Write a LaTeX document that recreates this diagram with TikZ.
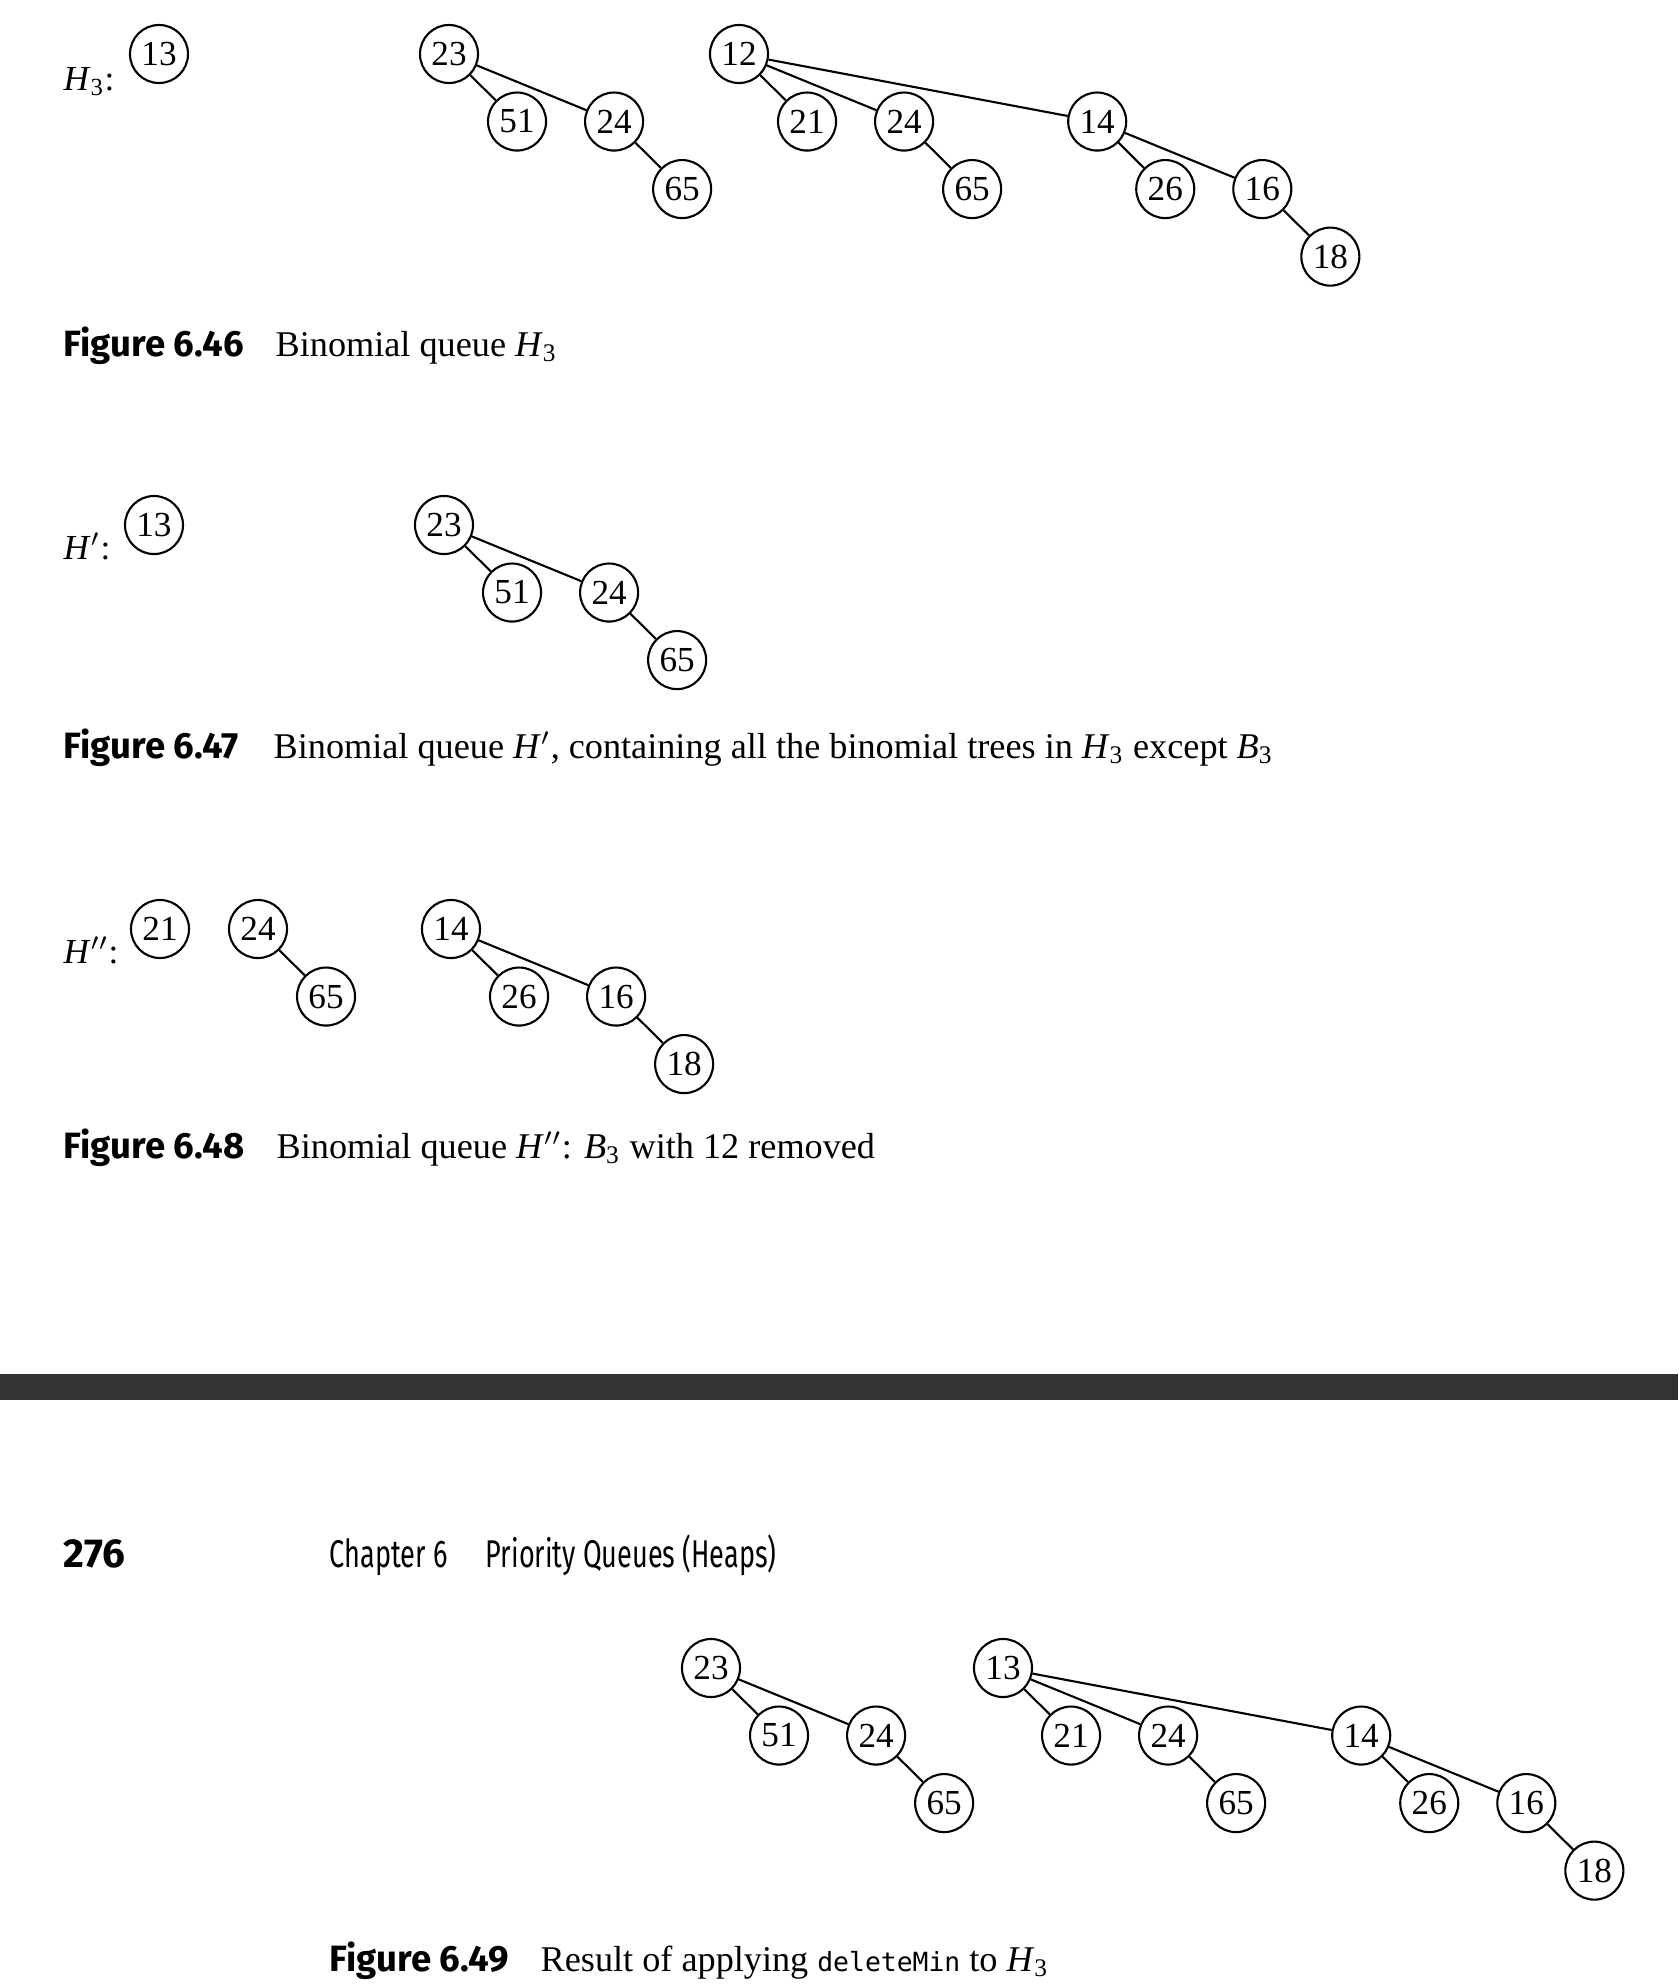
\documentclass[tikz,border=0pt]{standalone}
\usepackage{fontspec}
\setmainfont{Liberation Serif}
\setmonofont{DejaVu Sans Mono}
\newfontfamily\figfont{Fira Sans}
\newfontfamily\headfont[FakeStretch=0.7]{Fira Sans}
\usetikzlibrary{positioning}

\begin{document}
\begin{tikzpicture}[
    x=0.01cm, y=-0.01cm,
    node distance=6.75mm and 6.8mm,
    key/.style={
        draw,
        circle,
        line width=0.6pt,
        minimum size=5.8mm,
        inner sep=0pt,
        on grid,
        font=\fontsize{10}{12}\selectfont
    },
    link/.style={line width=0.6pt},
    qlabel/.style={anchor=base west, inner sep=0pt},
    fignum/.style={anchor=base west, inner sep=0pt, font=\figfont\bfseries\fontsize{10.4}{12}\selectfont},
    captext/.style={anchor=base west, inner sep=0pt, font=\fontsize{10.3}{12}\selectfont},
    header/.style={anchor=base west, inner sep=0pt, font=\headfont\fontsize{11}{13}\selectfont}
]
\useasboundingbox (0,0) rectangle (1678,1984);

% Figure 6.46: H_3
\node[qlabel] (h3) at (63,90) {\textit{H}\textsubscript{3}:};
\node[key] (a13) at (159,54) {13};
\node[key] (a23) at (449,54) {23};
\node[key, below right=of a23] (a51) {51};
\node[key, below right=6.75mm and 16.5mm of a23] (a24) {24};
\node[key, below right=of a24] (a65) {65};
\node[key] (a12) at (739,54) {12};
\node[key, below right=of a12] (a21) {21};
\node[key, below right=6.75mm and 16.5mm of a12] (a24b) {24};
\node[key, below right=of a24b] (a65b) {65};
\node[key, below right=6.75mm and 35.8mm of a12] (a14) {14};
\node[key, below right=of a14] (a26) {26};
\node[key, below right=6.75mm and 16.5mm of a14] (a16) {16};
\node[key, below right=of a16] (a18) {18};
\draw[link] (a23) -- (a51) (a23) -- (a24) (a24) -- (a65);
\draw[link] (a12) -- (a21) (a12) -- (a24b) (a24b) -- (a65b) (a12) -- (a14);
\draw[link] (a14) -- (a26) (a14) -- (a16) (a16) -- (a18);
\node[fignum] (f46) at (63,356) {Figure 6.46};
\node[captext] (t46) at (275,356) {Binomial queue \textit{H}\textsubscript{3}};

% Figure 6.47: H'
\node[qlabel] (hp) at (63,559) {\textit{H}$'$:};
\node[key] (b13) at (154,525) {13};
\node[key] (b23) at (444,525) {23};
\node[key, below right=of b23] (b51) {51};
\node[key, below right=6.75mm and 16.5mm of b23] (b24) {24};
\node[key, below right=of b24] (b65) {65};
\draw[link] (b23) -- (b51) (b23) -- (b24) (b24) -- (b65);
\node[fignum] (f47) at (63,758) {Figure 6.47};
\node[captext] (t47) at (273,758) {Binomial queue \textit{H}$'$, containing all the binomial trees in \textit{H}\textsubscript{3} except \textit{B}\textsubscript{3}};

% Figure 6.48: H''
\node[qlabel] (hpp) at (63,963) {\textit{H}$''$:};
\node[key] (c21) at (160,929) {21};
\node[key] (c24) at (258,929) {24};
\node[key, below right=of c24] (c65) {65};
\node[key] (c14) at (451,929) {14};
\node[key, below right=of c14] (c26) {26};
\node[key, below right=6.75mm and 16.5mm of c14] (c16) {16};
\node[key, below right=of c16] (c18) {18};
\draw[link] (c24) -- (c65);
\draw[link] (c14) -- (c26) (c14) -- (c16) (c16) -- (c18);
\node[fignum] (f48) at (63,1158) {Figure 6.48};
\node[captext] (t48) at (276,1158) {Binomial queue \textit{H}$''$: \textit{B}\textsubscript{3} with 12 removed};

% page break
\fill[black!80] (0,1374) rectangle (1678,1400);
\node[anchor=base west, inner sep=0pt, font=\figfont\bfseries\fontsize{11.5}{13}\selectfont] (page) at (63,1567) {276};
\node[header] (chap) at (329,1567) {Chapter 6};
\node[header] (title) at (485,1567) {Priority Queues (Heaps)};

% Figure 6.49: after deleteMin
\node[key] (d23) at (711,1668) {23};
\node[key, below right=of d23] (d51) {51};
\node[key, below right=6.75mm and 16.5mm of d23] (d24) {24};
\node[key, below right=of d24] (d65) {65};
\node[key] (d13) at (1003,1668) {13};
\node[key, below right=of d13] (d21) {21};
\node[key, below right=6.75mm and 16.5mm of d13] (d24b) {24};
\node[key, below right=of d24b] (d65b) {65};
\node[key, below right=6.75mm and 35.8mm of d13] (d14) {14};
\node[key, below right=of d14] (d26) {26};
\node[key, below right=6.75mm and 16.5mm of d14] (d16) {16};
\node[key, below right=of d16] (d18) {18};
\draw[link] (d23) -- (d51) (d23) -- (d24) (d24) -- (d65);
\draw[link] (d13) -- (d21) (d13) -- (d24b) (d24b) -- (d65b) (d13) -- (d14);
\draw[link] (d14) -- (d26) (d14) -- (d16) (d16) -- (d18);
\node[fignum] (f49) at (329,1971) {Figure 6.49};
\node[captext] (t49) at (540,1971) {Result of applying {\ttfamily\fontsize{7.5}{9}\selectfont deleteMin} to \textit{H}\textsubscript{3}};
\end{tikzpicture}
\end{document}
